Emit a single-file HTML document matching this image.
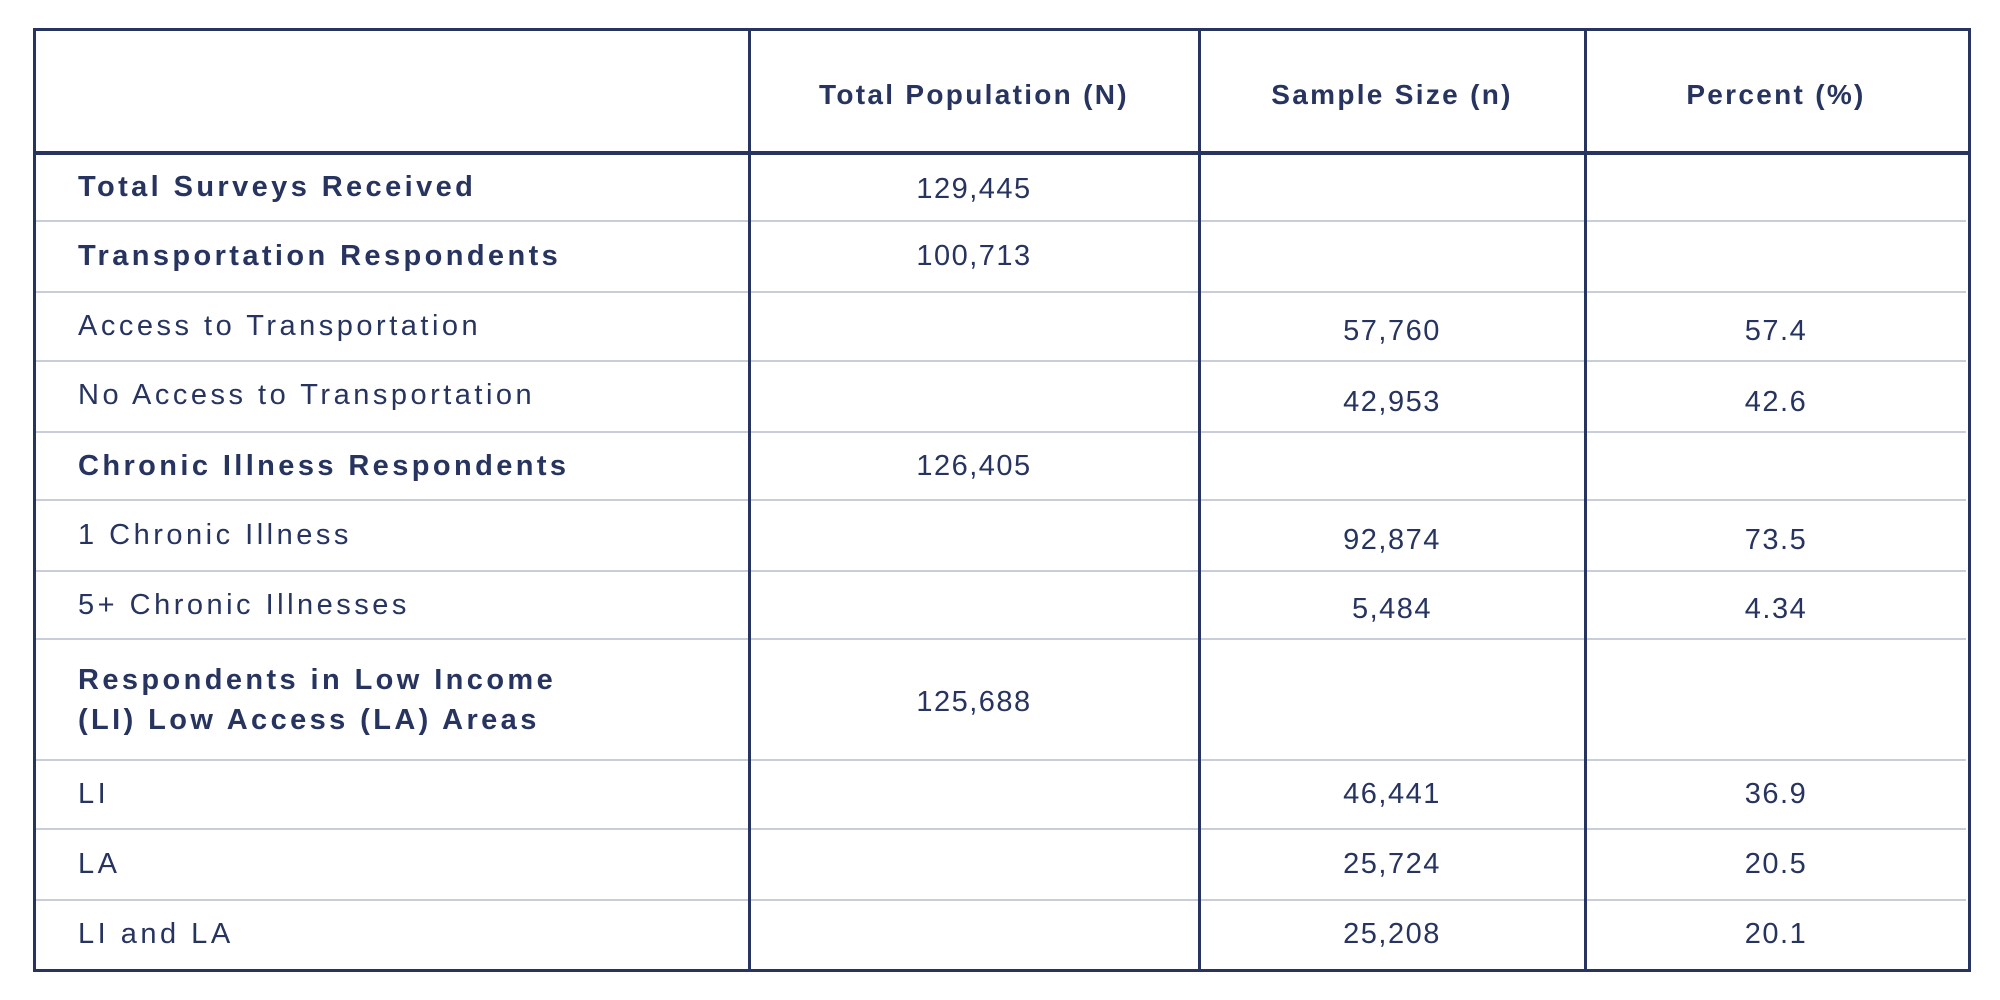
<!DOCTYPE html>
<html><head><meta charset="utf-8"><style>
html,body{margin:0;padding:0;background:#fff;width:2000px;height:1000px;overflow:hidden}
body{position:relative;font-family:"Liberation Sans",sans-serif;color:#26345f}
.l{position:absolute;background:#c9cdd9;height:2px;left:36px;width:1930px}
.v{position:absolute;background:#26345f;width:3px;top:29px;height:941px}
.t{position:absolute;display:flex;align-items:center;font-size:29px;letter-spacing:1.5px}
.r{letter-spacing:3.5px}
.b{font-weight:bold;letter-spacing:3.4px;font-size:29px}
.c{justify-content:center}
.h{font-weight:bold;font-size:28px;letter-spacing:2.3px}
</style></head><body>
<div style="position:absolute;left:33px;top:28px;width:1932px;height:938px;border:3px solid #26345f"></div>
<div style="position:absolute;left:33px;top:151px;width:1936px;height:4px;background:#26345f"></div>
<div class="l" style="top:220px"></div>
<div class="l" style="top:291px"></div>
<div class="l" style="top:360px"></div>
<div class="l" style="top:431px"></div>
<div class="l" style="top:499px"></div>
<div class="l" style="top:570px"></div>
<div class="l" style="top:638px"></div>
<div class="l" style="top:759px"></div>
<div class="l" style="top:828px"></div>
<div class="l" style="top:899px"></div>
<div class="v" style="left:748px"></div>
<div class="v" style="left:1198px"></div>
<div class="v" style="left:1584px"></div>

<div class="t c h" style="left:750px;width:448px;top:34px;height:122px">Total Population (N)</div>
<div class="t c h" style="left:1200px;width:384px;top:34px;height:122px">Sample Size (n)</div>
<div class="t c h" style="left:1586px;width:380px;top:34px;height:122px">Percent (%)</div>

<div class="t b" style="left:78px;top:155px;height:65px">Total Surveys Received</div>
<div class="t c" style="left:750px;width:448px;top:157px;height:65px">129,445</div>
<div class="t b" style="left:78px;top:222px;height:69px">Transportation Respondents</div>
<div class="t c" style="left:750px;width:448px;top:222px;height:69px">100,713</div>
<div class="t r" style="left:78px;top:295px;height:63px">Access to Transportation</div>
<div class="t c" style="left:1200px;width:384px;top:300px;height:63px">57,760</div>
<div class="t c" style="left:1586px;width:380px;top:300px;height:63px">57.4</div>
<div class="t r" style="left:78px;top:362px;height:66px">No Access to Transportation</div>
<div class="t c" style="left:1200px;width:384px;top:369px;height:66px">42,953</div>
<div class="t c" style="left:1586px;width:380px;top:369px;height:66px">42.6</div>
<div class="t b" style="left:78px;top:433px;height:66px">Chronic Illness Respondents</div>
<div class="t c" style="left:750px;width:448px;top:433px;height:66px">126,405</div>
<div class="t r" style="left:78px;top:502px;height:67px">1 Chronic Illness</div>
<div class="t c" style="left:1200px;width:384px;top:507px;height:67px">92,874</div>
<div class="t c" style="left:1586px;width:380px;top:507px;height:67px">73.5</div>
<div class="t r" style="left:78px;top:572px;height:66px">5+ Chronic Illnesses</div>
<div class="t c" style="left:1200px;width:384px;top:576px;height:66px">5,484</div>
<div class="t c" style="left:1586px;width:380px;top:576px;height:66px">4.34</div>
<div class="t b" style="left:78px;top:640px;height:119px;line-height:40px">Respondents in Low Income<br>(LI) Low Access (LA) Areas</div>
<div class="t c" style="left:750px;width:448px;top:640px;height:125px">125,688</div>
<div class="t r" style="left:78px;top:761px;height:66px">LI</div>
<div class="t c" style="left:1200px;width:384px;top:761px;height:66px">46,441</div>
<div class="t c" style="left:1586px;width:380px;top:761px;height:66px">36.9</div>
<div class="t r" style="left:78px;top:830px;height:69px">LA</div>
<div class="t c" style="left:1200px;width:384px;top:830px;height:69px">25,724</div>
<div class="t c" style="left:1586px;width:380px;top:830px;height:69px">20.5</div>
<div class="t r" style="left:78px;top:901px;height:66px">LI and LA</div>
<div class="t c" style="left:1200px;width:384px;top:901px;height:66px">25,208</div>
<div class="t c" style="left:1586px;width:380px;top:901px;height:66px">20.1</div>
</body></html>
